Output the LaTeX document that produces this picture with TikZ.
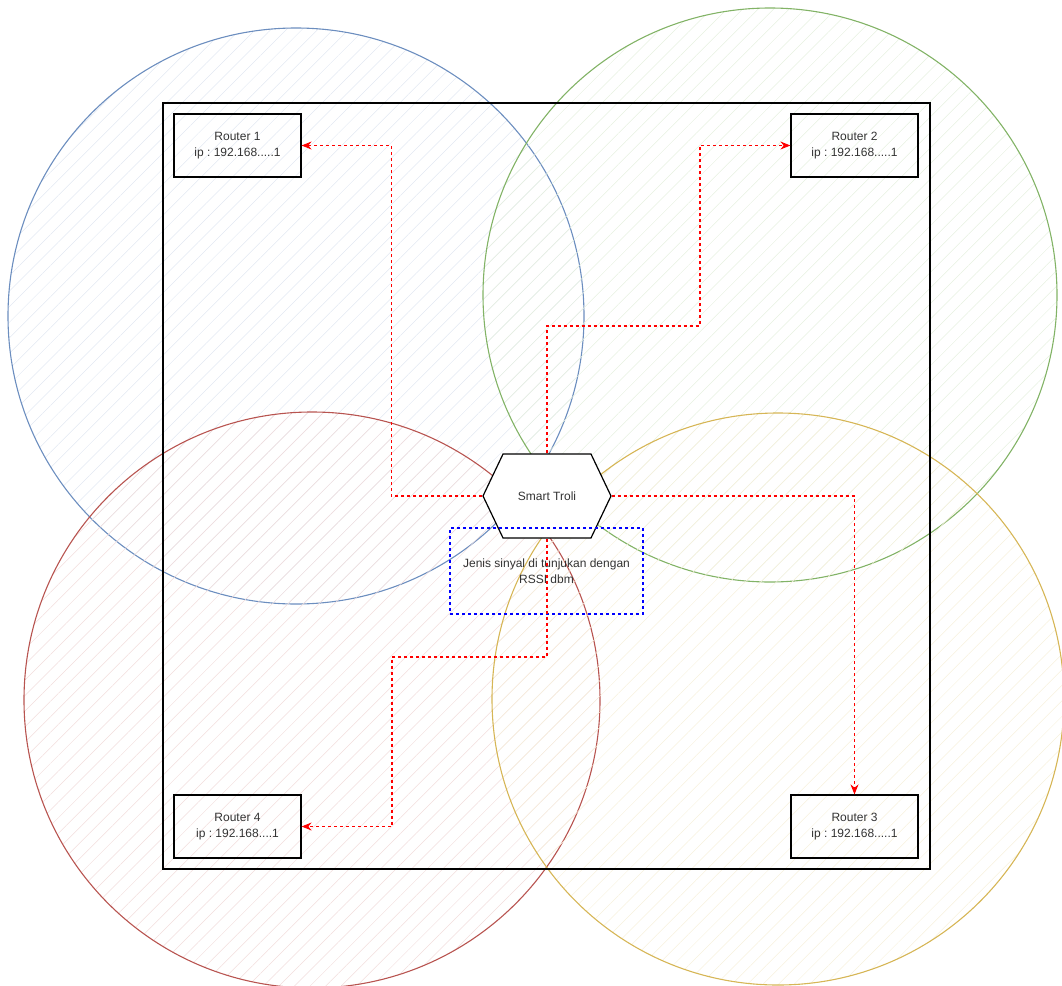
\documentclass[tikz,border=0pt]{standalone}
\usepackage{fontspec}
\setmainfont{Liberation Sans}
\usetikzlibrary{shapes.symbols,patterns.meta,arrows.meta}
\definecolor{zblue}{HTML}{6C8EBF}
\definecolor{zgreen}{HTML}{82B366}
\definecolor{zred}{HTML}{B85450}
\definecolor{zyellow}{HTML}{D6B656}
\definecolor{linkred}{HTML}{FF0000}
\definecolor{noteblue}{HTML}{0000FF}

\tikzset{
  zone/.style={line width=1.1pt, pattern={Lines[angle=45,distance=11pt,line width=0.5pt]}},
  router/.style={draw, rectangle, line width=1.2pt, minimum width=127pt, minimum height=63pt, align=center, text=black!80},
  link/.style={-{Stealth[length=10pt,width=8pt]}, linkred, line width=1.1pt, dash pattern=on 3pt off 3pt},
}

\begin{document}
\frenchspacing
\begin{tikzpicture}[x=1pt, y=-1pt, font=\fontsize{12}{16}\selectfont]
\useasboundingbox (0,0) rectangle (1062,985);

% coverage of each router
\draw[zone, draw=zblue, pattern color=zblue!20] (296,316) circle (288);
\draw[zone, draw=zgreen, pattern color=zgreen!20] (770,295) circle (287);
\draw[zone, draw=zred, pattern color=zred!20] (312,700) circle (288);
\draw[zone, draw=zyellow, pattern color=zyellow!20] (778,699) circle (286);

% room
\draw[line width=1.3pt] (163,103) rectangle (930,869);

\node[router] (r1) at (237.5,145.5) {Router 1\\ip : 192.168.....1};
\node[router] (r2) at (854.5,145.5) {Router 2\\ip : 192.168.....1};
\node[router] (r3) at (854.5,826.5) {Router 3\\ip : 192.168.....1};
\node[router] (r4) at (237.5,826.5) {Router 4\\ip : 192.168....1};

\node[signal, signal to=east and west, signal pointer angle=129, draw, fill=white, line width=1.2pt, minimum width=128pt, minimum height=84pt, inner sep=0pt, text=black!80] (troli) at (547,496) {Smart Troli};

\node[draw=noteblue, line width=1.1pt, dash pattern=on 3pt off 3pt, minimum width=193pt, minimum height=86pt, align=center, text=black!80] (note) at (546.5,571) {Jenis sinyal di tunjukan dengan\\RSSI dbm};

\draw[link] (troli.west) -- ++(-91,0) |- (r1.east);
\draw[link] (troli.north) |- (700,326) |- (r2.west);
\draw[link] (troli.east) -| (r3.north);
\draw[link] (troli.south) |- (392,657) |- (r4.east);
\end{tikzpicture}
\end{document}
